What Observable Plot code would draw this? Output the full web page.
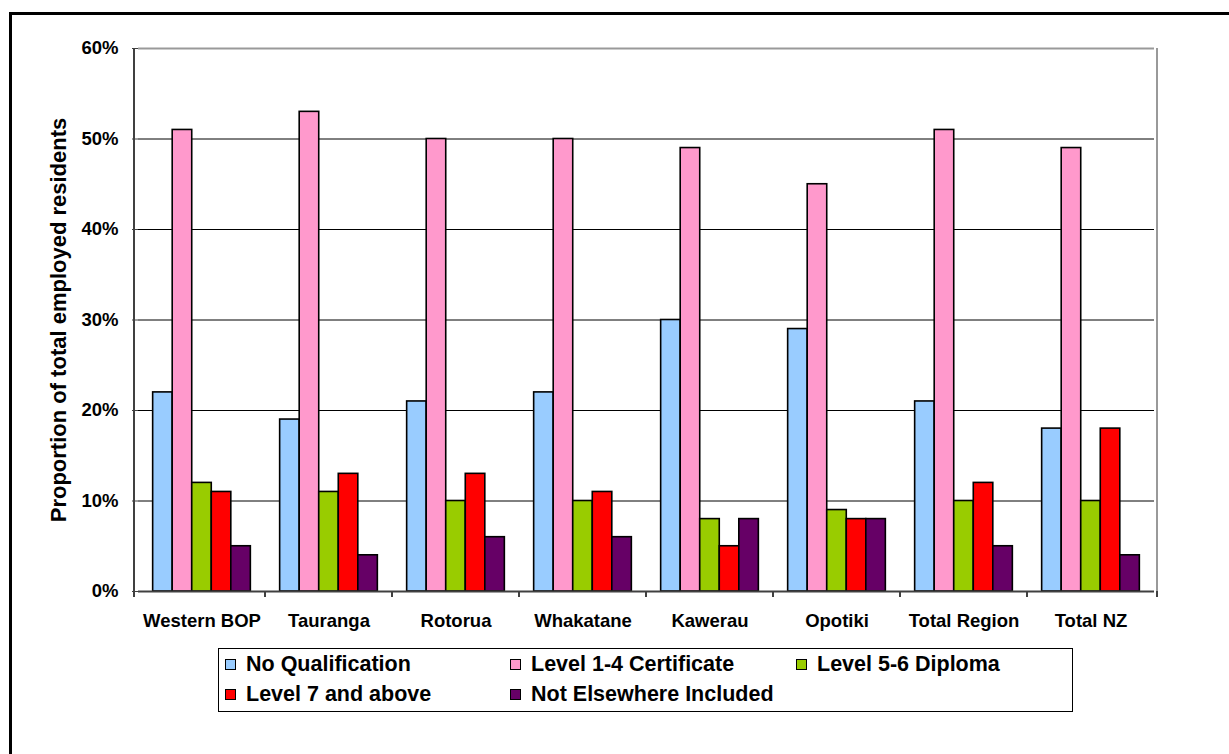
<!DOCTYPE html>
<html>
<head>
<meta charset="utf-8">
<script src="https://cdn.jsdelivr.net/npm/d3@7"></script>
<script src="https://cdn.jsdelivr.net/npm/@observablehq/plot@0.6"></script>
<style>
  body { margin: 0; background: #fff; overflow: hidden; font-family: "Liberation Sans", Arial, sans-serif; }
  #page { position: relative; width: 1229px; height: 754px; overflow: hidden; background: #fff; }
  #border { position: absolute; left: 9px; top: 12px; width: 1400px; height: 900px; border-left: 3px solid #000; border-top: 3px solid #000; }
  #chart { position: absolute; left: 0; top: 0; }
  #chart svg text { font-family: "Liberation Sans", Arial, sans-serif; font-weight: bold; fill: #000; }
  #ylabel { position: absolute; left: 59px; top: 319.5px; transform: translate(-50%, -50%) rotate(-90deg);
            white-space: nowrap; font-size: 22px; font-weight: bold; color: #000; }
  .legend { position: absolute; left: 218px; top: 648px; width: 853px; height: 62px; border: 1px solid #000; background: #fff; }
  .item { position: absolute; display: flex; align-items: center; height: 26px; font-size: 21.5px; font-weight: bold; white-space: nowrap; color: #000; }
  .sw { width: 9px; height: 9px; border: 1px solid #000; margin-right: 10px; flex: none; }
</style>
</head>
<body>
<div id="page">
  <div id="border"></div>
  <div id="chart"></div>
  <div id="ylabel">Proportion of total employed residents</div>
  <div class="legend" id="legend"></div>
</div>
<script>
// Districts along the x axis
const regions = ["Western BOP", "Tauranga", "Rotorua", "Whakatane", "Kawerau", "Opotiki", "Total Region", "Total NZ"];

// Highest qualification groups
const series = ["No Qualification", "Level 1-4 Certificate", "Level 5-6 Diploma", "Level 7 and above", "Not Elsewhere Included"];
const colors = ["#99CCFF", "#FF99CC", "#99CC00", "#FF0000", "#660066"];

// Share of employed residents (%) per district, one array per group
const noQualification = [22, 19, 21, 22, 30, 29, 21, 18];
const level1to4       = [51, 53, 50, 50, 49, 45, 51, 49];
const level5to6       = [12, 11, 10, 10, 8, 9, 10, 10];
const level7plus      = [11, 13, 13, 11, 5, 8, 12, 18];
const notElsewhere    = [5, 4, 6, 6, 8, 8, 5, 4];

// Y axis ticks
const yTicks = [0, 0.1, 0.2, 0.3, 0.4, 0.5, 0.6];
const gridLines = [0.1, 0.2, 0.3, 0.4, 0.5];

const seriesValues = [noQualification, level1to4, level5to6, level7plus, notElsewhere];
const rows = [];
regions.forEach((region, i) => {
  series.forEach((s, j) => rows.push({region, series: s, value: seriesValues[j][i] / 100}));
});

const font = '"Liberation Sans", Arial, sans-serif';
const pct = d3.format(".0%");

const yAxisMark = Plot.axisY
  ? Plot.axisY(yTicks, {tickSize: 6, tickPadding: 14, tickFormat: pct, label: null, stroke: "#404040"})
  : null;

const chart = Plot.plot({
  width: 1229,
  height: 640,
  marginTop: 48,
  marginLeft: 134,
  marginRight: 72,
  marginBottom: 49,
  style: {fontFamily: font, fontSize: "18.5px", fontWeight: "bold", color: "#000", background: "transparent", overflow: "visible"},
  fx: {domain: regions, padding: 0, label: null, axis: "bottom", tickSize: 0, tickPadding: 22},
  x: {domain: series, paddingInner: 0, paddingOuter: 0.75, round: false, axis: null},
  y: {domain: [0, 0.6], ticks: yTicks, tickFormat: pct, tickSize: 6, tickPadding: 14, label: null},
  color: {domain: series, range: colors},
  marks: [
    Plot.ruleY(gridLines, {stroke: "#000", strokeWidth: 1}),
    Plot.ruleY([0.6], {stroke: "#999", strokeWidth: 2}),
    Plot.barY(rows, {fx: "region", x: "series", y: "value", fill: "series", stroke: "#000", strokeWidth: 1.6}),
    Plot.ruleY([0], {stroke: "#404040", strokeWidth: 2}),
    yAxisMark
  ]
});

document.getElementById("chart").appendChild(chart);

// Plot-area edges and category boundary ticks, placed with the chart's own scales
const fx = chart.scale("fx");
const y = chart.scale("y");
const yBottom = y.apply(0), yTop = y.apply(0.6);
const xLeft = fx.range[0], xRight = fx.range[1];
const svg = d3.select(chart);
const g = svg.append("g");
g.append("line")
  .attr("x1", xLeft).attr("x2", xLeft).attr("y1", yTop).attr("y2", yBottom + 6)
  .attr("stroke", "#404040").attr("stroke-width", 2);
g.append("line")
  .attr("x1", xRight).attr("x2", xRight).attr("y1", yTop).attr("y2", yBottom)
  .attr("stroke", "#999").attr("stroke-width", 2);
const bounds = fx.domain.map(d => fx.apply(d)).concat([xRight]);
g.selectAll("line.b").data(bounds.slice(1)).join("line")
  .attr("class", "b")
  .attr("x1", d => d).attr("x2", d => d).attr("y1", yBottom).attr("y2", yBottom + 6)
  .attr("stroke", "#404040").attr("stroke-width", 2);

// Legend: three items on the first row, two on the second
const legend = document.getElementById("legend");
const cols = [6, 291, 577];
const rowsTop = [2.3, 32.3];
series.forEach((s, i) => {
  const item = document.createElement("div");
  item.className = "item";
  item.style.left = cols[i % 3] + "px";
  item.style.top = rowsTop[Math.floor(i / 3)] + "px";
  const sw = document.createElement("span");
  sw.className = "sw";
  sw.style.background = colors[i];
  item.appendChild(sw);
  item.appendChild(document.createTextNode(s));
  legend.appendChild(item);
});
</script>
</body>
</html>
